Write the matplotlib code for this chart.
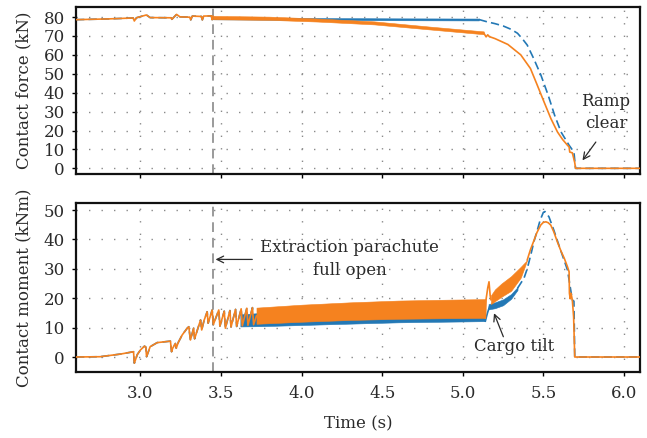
import matplotlib
matplotlib.use("Agg")
import matplotlib.pyplot as plt
import numpy as np

plt.rcParams['font.family'] = ['DejaVu Serif']
plt.rcParams['font.size'] = 12

BLUE = '#2378b5'
ORANGE = '#f5821f'
TEXT = '#2a2a2a'

# ---------------- contact force (kN) ----------------
# both runs coincide before the extraction parachute opens
force_pre = [(2.60, 78.6), (2.80, 79.0), (2.955, 79.5), (2.962, 77.9), (2.975, 79.6),
             (3.037, 81.1), (3.06, 79.7), (3.19, 79.6), (3.195, 78.8), (3.224, 81.4),
             (3.245, 80.1), (3.306, 79.9), (3.312, 78.5), (3.322, 80.5), (3.378, 80.3),
             (3.384, 78.5), (3.392, 80.5), (3.44, 80.6), (3.445, 78.6), (3.45, 80.4)]

# oscillating section: envelope of the fast oscillation
force_orange_band_t = [3.45, 3.80, 4.10, 4.45, 4.80, 5.13]
force_orange_band_hi = [80.6, 80.2, 79.2, 77.7, 74.9, 72.4]
force_orange_band_lo = [78.8, 78.5, 77.6, 76.1, 73.4, 70.9]

force_blue_band_t = [3.45, 4.00, 4.60, 5.10]
force_blue_band_hi = [79.8, 79.5, 79.3, 79.2]
force_blue_band_lo = [78.8, 78.5, 78.3, 78.2]

force_orange_tail = [(5.13, 71.6), (5.145, 69.5), (5.155, 70.6), (5.165, 69.6), (5.18, 69.2),
                     (5.20, 68.6), (5.28, 65.5), (5.36, 60.0), (5.42, 52.8), (5.46, 44.5),
                     (5.505, 35.0), (5.547, 26.3), (5.588, 19.2), (5.62, 15.2), (5.65, 12.2),
                     (5.66, 11.3), (5.664, 8.6), (5.68, 8.2), (5.688, 5.5), (5.695, 3.0),
                     (5.70, 0.0), (6.10, 0.0)]

force_blue_tail = [(5.10, 78.7), (5.15, 77.5), (5.20, 76.5), (5.25, 75.3), (5.30, 73.5),
                   (5.34, 71.4), (5.37, 68.5), (5.40, 65.2), (5.44, 58.1), (5.485, 49.3),
                   (5.53, 38.7), (5.57, 28.1), (5.61, 19.2), (5.66, 12.2), (5.69, 8.6),
                   (5.70, 0.0), (6.10, 0.0)]

# ---------------- contact moment (kNm) ----------------
moment_pre = [(2.60, 0.0), (2.75, 0.1), (2.876, 1.0), (2.957, 1.8), (2.962, -2.1),
              (2.98, 0.8), (3.00, 2.4), (3.025, 3.7), (3.033, 3.4), (3.038, 0.1),
              (3.06, 3.5), (3.104, 4.9), (3.186, 5.4), (3.193, 1.8), (3.20, 3.0),
              (3.217, 4.6), (3.222, 3.0), (3.235, 5.0), (3.259, 7.5), (3.29, 9.8),
              (3.30, 10.3), (3.31, 5.8), (3.33, 9.8), (3.336, 6.2), (3.355, 9.5),
              (3.373, 12.6), (3.38, 9.2), (3.395, 12.5), (3.414, 15.4), (3.42, 11.5),
              (3.445, 16.0), (3.452, 11.0), (3.486, 16.0), (3.493, 10.5), (3.52, 15.6),
              (3.527, 9.8), (3.555, 15.8), (3.562, 10.2), (3.59, 16.2), (3.597, 10.4),
              (3.625, 16.4), (3.632, 10.6), (3.66, 16.6), (3.667, 10.8), (3.695, 16.8),
              (3.702, 11.0), (3.72, 14.0)]

moment_orange_band_t = [3.72, 4.00, 4.30, 4.60, 4.90, 5.14]
moment_orange_band_hi = [16.8, 17.8, 18.6, 19.2, 19.5, 19.7]
moment_orange_band_lo = [11.3, 12.0, 12.6, 13.0, 13.2, 13.3]

moment_blue_band_t = [3.62, 3.75, 4.20, 4.60, 5.14]
moment_blue_band_hi = [14.5, 15.0, 15.5, 16.0, 16.5]
moment_blue_band_lo = [10.4, 10.5, 11.2, 11.8, 12.2]

moment_orange_spike = [(5.14, 13.3), (5.145, 19.7), (5.155, 23.5), (5.163, 25.6),
                       (5.17, 21.0), (5.175, 19.5)]

moment_orange_fan_t = [5.175, 5.20, 5.24, 5.30, 5.36, 5.40]
moment_orange_fan_hi = [21.0, 23.0, 25.0, 27.5, 30.7, 33.0]
moment_orange_fan_lo = [18.0, 19.0, 20.5, 22.5, 27.0, 33.0]

moment_orange_tail = [(5.40, 33.0), (5.42, 36.5), (5.443, 39.8), (5.46, 42.3), (5.484, 44.9),
                      (5.50, 45.8), (5.516, 46.0), (5.53, 45.7), (5.546, 44.9), (5.565, 42.6),
                      (5.587, 39.2), (5.61, 36.0), (5.63, 33.6), (5.65, 30.7), (5.66, 29.0),
                      (5.662, 21.7), (5.667, 19.8), (5.672, 21.7), (5.68, 19.4), (5.688, 13.7),
                      (5.695, 0.0), (6.10, 0.0)]

moment_blue_rise = [(5.14, 12.2), (5.153, 14.9), (5.165, 17.0)]
moment_blue_tilt_t = [5.16, 5.20, 5.25, 5.30, 5.34]
moment_blue_tilt_hi = [18.0, 18.6, 19.6, 21.4, 23.8]
moment_blue_tilt_lo = [16.2, 16.6, 17.6, 19.8, 22.8]
moment_blue_tail = [(5.34, 23.4), (5.38, 26.8), (5.40, 30.0), (5.422, 34.7), (5.443, 39.5),
                    (5.463, 43.2), (5.48, 46.5), (5.50, 49.2), (5.51, 49.5), (5.535, 47.7),
                    (5.565, 43.2), (5.607, 36.4), (5.65, 29.6), (5.67, 22.8), (5.68, 19.4),
                    (5.69, 19.0), (5.695, 0.0), (6.10, 0.0)]

parachute_open_t = 3.45
x_ticks = [3.0, 3.5, 4.0, 4.5, 5.0, 5.5, 6.0]
force_ticks = [0, 10, 20, 30, 40, 50, 60, 70, 80]
moment_ticks = [0, 10, 20, 30, 40, 50]


def xy(pairs):
    a = np.array(pairs)
    return a[:, 0], a[:, 1]


W, H = 647, 438
fig = plt.figure(figsize=(W / 100, H / 100), dpi=100)
ax1 = fig.add_axes([76 / W, 1 - 174 / H, (640 - 76) / W, (174 - 7) / H])
ax2 = fig.add_axes([76 / W, 1 - 372 / H, (640 - 76) / W, (372 - 203) / H], sharex=ax1)

dash = (0, (5, 2.5))
lw = 1.2

# force
t, v = xy(force_pre)
ax1.plot(t, v, color=BLUE, lw=lw, ls=dash, zorder=2)
ax1.fill_between(force_blue_band_t, force_blue_band_lo, force_blue_band_hi,
                 color=BLUE, lw=0.4, zorder=2)
t, v = xy(force_blue_tail)
ax1.plot(t, v, color=BLUE, lw=lw, ls=dash, zorder=2)
t, v = xy(force_pre)
ax1.plot(t, v, color=ORANGE, lw=lw, zorder=3)
ax1.fill_between(force_orange_band_t, force_orange_band_lo, force_orange_band_hi,
                 color=ORANGE, lw=0.4, zorder=3)
t, v = xy(force_orange_tail)
ax1.plot(t, v, color=ORANGE, lw=lw, zorder=3)

# moment
t, v = xy(moment_pre)
ax2.plot(t, v, color=BLUE, lw=lw, ls=dash, zorder=2)
ax2.fill_between(moment_blue_band_t, moment_blue_band_lo, moment_blue_band_hi,
                 color=BLUE, lw=0.4, zorder=2)
t, v = xy(moment_blue_rise)
ax2.plot(t, v, color=BLUE, lw=lw, zorder=2)
ax2.fill_between(moment_blue_tilt_t, moment_blue_tilt_lo, moment_blue_tilt_hi,
                 color=BLUE, lw=0.4, zorder=2)
t, v = xy(moment_blue_tail)
ax2.plot(t, v, color=BLUE, lw=lw, ls=dash, zorder=2)

t, v = xy(moment_pre)
ax2.plot(t, v, color=ORANGE, lw=lw, zorder=3)
ax2.fill_between(moment_orange_band_t, moment_orange_band_lo, moment_orange_band_hi,
                 color=ORANGE, lw=0.4, zorder=3)
t, v = xy(moment_orange_spike)
ax2.plot(t, v, color=ORANGE, lw=lw, zorder=3)
ax2.fill_between(moment_orange_fan_t, moment_orange_fan_lo, moment_orange_fan_hi,
                 color=ORANGE, lw=0.4, zorder=3)
t, v = xy(moment_orange_tail)
ax2.plot(t, v, color=ORANGE, lw=lw, zorder=3)

for ax in (ax1, ax2):
    ax.axvline(parachute_open_t, color='#9a9a9a', lw=1.4, ls=(0, (5, 3)), zorder=1)
    ax.set_xlim(2.6, 6.1)
    ax.set_xticks(x_ticks)
    ax.grid(True, color='#8a8a8a', lw=1.0, ls=(0, (1, 8)))
    ax.set_axisbelow(True)
    for s in ax.spines.values():
        s.set_linewidth(1.6)
        s.set_color('#111111')
    ax.tick_params(direction='out', length=3, width=1, labelsize=12,
                   labelcolor=TEXT)
    ax.tick_params(axis='x', pad=6)
    ax.tick_params(axis='y', pad=5)

ax1.set_ylim(-3, 85.3)
ax1.set_yticks(force_ticks)
ax1.tick_params(labelbottom=False)
ax1.set_ylabel('Contact force (kN)', fontsize=12, color=TEXT)
ax1.yaxis.set_label_coords(-0.078, 0.5)

ax2.set_ylim(-5.1, 52.4)
ax2.set_yticks(moment_ticks)
ax2.set_xticklabels([f'{x:.1f}' for x in x_ticks])
ax2.set_ylabel('Contact moment (kNm)', fontsize=12, color=TEXT)
ax2.yaxis.set_label_coords(-0.078, 0.5)
ax2.set_xlabel('Time (s)', fontsize=12, color=TEXT)
ax2.xaxis.set_label_coords(0.5, -0.255)

arrow = dict(arrowstyle='->', color=TEXT, lw=0.9, shrinkA=0, shrinkB=0)
ax1.text(5.888, 29.5, 'Ramp\nclear', ha='center', va='center', fontsize=12,
         linespacing=1.4, color=TEXT)
ax1.annotate('', xy=(5.743, 4.2), xytext=(5.826, 13.9), arrowprops=arrow)

ax2.text(4.298, 33.3, 'Extraction parachute\nfull open', ha='center', va='center',
         fontsize=12, linespacing=1.45, color=TEXT)
ax2.annotate('', xy=(3.466, 33.2), xytext=(3.694, 33.2), arrowprops=arrow)

ax2.text(5.318, 3.5, 'Cargo tilt', ha='center', va='center', fontsize=12, color=TEXT)
ax2.annotate('', xy=(5.194, 14.9), xytext=(5.252, 6.9), arrowprops=arrow)

fig.savefig('out.png', dpi=100)
